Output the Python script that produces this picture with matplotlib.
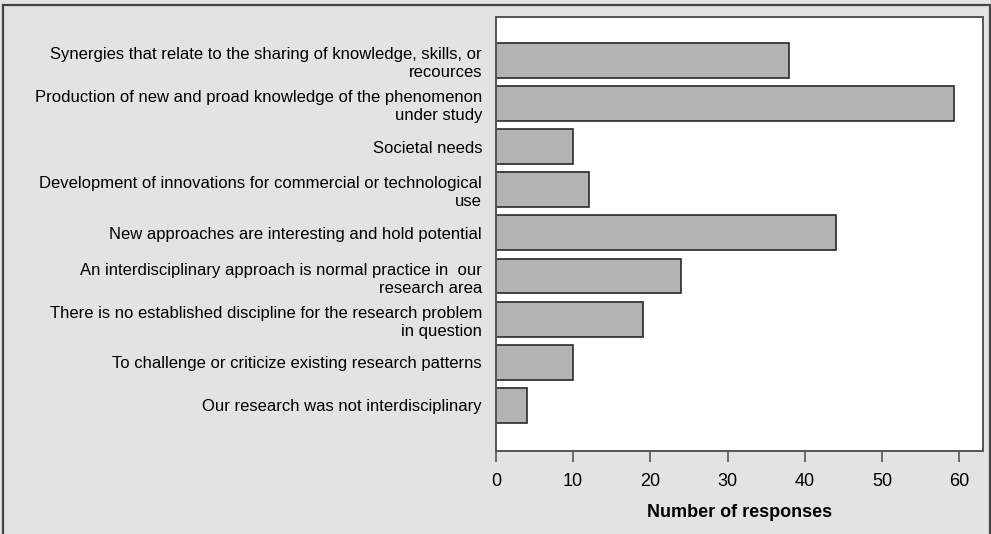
import matplotlib
matplotlib.use("Agg")
import matplotlib.pyplot as plt
from matplotlib.patches import Rectangle

plt.rcParams['font.family'] = ['Liberation Sans Narrow', 'Liberation Sans', 'DejaVu Sans']

categories = [
    "Synergies that relate to the sharing of knowledge, skills, or\nrecources",
    "Production of new and proad knowledge of the phenomenon\nunder study",
    "Societal needs",
    "Development of innovations for commercial or technological\nuse",
    "New approaches are interesting and hold potential",
    "An interdisciplinary approach is normal practice in  our\nresearch area",
    "There is no established discipline for the research problem\nin question",
    "To challenge or criticize existing research patterns",
    "Our research was not interdisciplinary",
]
values = [38, 59.3, 10, 12, 44, 24, 19, 10, 4]
xticks = [0, 10, 20, 30, 40, 50, 60]
xlabel = "Number of responses"

W, H = 991, 534
fig = plt.figure(figsize=(W / 100, H / 100), dpi=100)
fig.patch.set_facecolor('#e3e3e3')
fig.patches.append(Rectangle((3 / W, -0.02), (990 - 3) / W, 1.02 - 5 / H,
                             transform=fig.transFigure, fill=False,
                             edgecolor='#444444', linewidth=1.6))

ax = fig.add_axes([496 / W, 1 - 451 / H, (983 - 496) / W, (451 - 17) / H])
ax.set_facecolor('white')
pos = list(range(len(categories)))
ax.barh(pos, values, height=0.81, color='#b3b3b3', edgecolor='#2a2a2a', linewidth=1.2)
ax.set_ylim(9.06, -1.01)
ax.set_xlim(0, 63.1)
ax.set_yticks(pos)
ax.set_yticklabels(categories, fontsize=12, linespacing=1.25)
ax.tick_params(axis='y', length=0, pad=10)
ax.set_xticks(xticks)
ax.set_xticklabels([str(t) for t in xticks], fontsize=13)
ax.tick_params(axis='x', length=8, width=1.2, color='#555555', pad=8, direction='out')
ax.set_xlabel(xlabel, fontsize=13, fontweight='bold', labelpad=10)
for s in ax.spines.values():
    s.set_color('#555555')
    s.set_linewidth(1.4)

fig.savefig('out.png', dpi=100, facecolor=fig.get_facecolor())
